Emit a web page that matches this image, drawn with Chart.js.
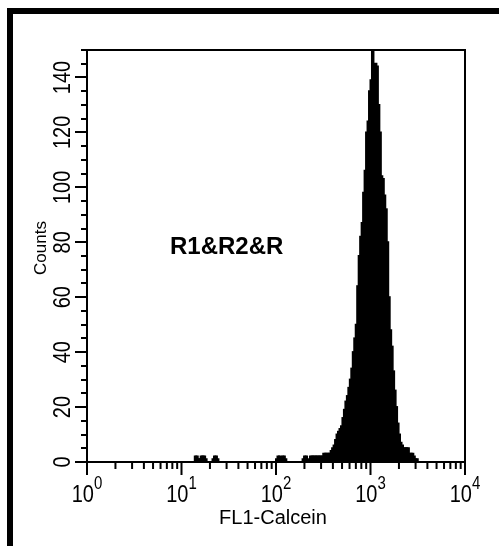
<!DOCTYPE html>
<html>
<head>
<meta charset="utf-8">
<title>FL1-Calcein</title>
<script src="https://cdn.jsdelivr.net/npm/chart.js@4.4.1/dist/chart.umd.min.js"></script>
<style>
  html, body { margin: 0; padding: 0; background: #fff; }
  canvas { display: block; }
</style>
</head>
<body>
<canvas id="histChart" width="499" height="546"></canvas>
<script>
// 256 channels over 4 log decades (64 channels per decade)
const counts = [
  0, 0, 0, 0, 0, 0, 0, 0, 0, 0, 0, 0, 0, 0, 0, 0,
  0, 0, 0, 0, 0, 0, 0, 0, 0, 0, 0, 0, 0, 0, 0, 0,
  0, 0, 0, 0, 0, 0, 0, 0, 0, 0, 0, 0, 0, 0, 0, 0,
  0, 0, 0, 0, 0, 0, 0, 0, 0, 0, 0, 0, 0, 0, 0, 0,
  0, 0, 0, 0, 0, 0, 0, 0, 0, 2, 2, 1, 1, 2, 2, 2,
  1, 0, 0, 0, 0, 1, 2, 2, 1, 0, 0, 0, 0, 0, 0, 0,
  0, 0, 0, 0, 0, 0, 0, 0, 0, 0, 0, 0, 0, 0, 0, 0,
  0, 0, 0, 0, 0, 0, 0, 0, 0, 0, 0, 0, 0, 0, 0, 0,
  1, 2, 2, 1, 2, 2, 1, 0, 0, 0, 0, 0, 0, 0, 0, 0,
  0, 0, 1, 2, 2, 1, 0, 2, 2, 2, 2, 2, 2, 2, 2, 2,
  3, 3, 3, 3, 3, 4, 5, 6, 8, 10, 11, 12, 13, 16, 19, 22,
  24, 27, 30, 34, 40, 45, 50, 64, 75, 82, 87, 98, 106, 120, 124, 135,
  139, 160, 144, 145, 144, 130, 120, 104, 103, 97, 92, 80, 60, 48, 42, 33,
  26, 20, 14, 10, 7, 6, 5, 5, 5, 5, 3, 3, 3, 2, 1, 1,
  0, 0, 0, 0, 0, 0, 0, 0, 0, 0, 0, 0, 0, 0, 0, 0,
  0, 0, 0, 0, 0, 0, 0, 0, 0, 0, 0, 0, 0, 0, 0, 0
];
const channelsPerDecade = 64;
const decadeExponents = ['0', '1', '2', '3', '4'];
const yTickValues = [0, 20, 40, 60, 80, 100, 120, 140];
const yMinorStep = 5;
const yMax = 150;
const xTitle = 'FL1-Calcein';
const yTitle = 'Counts';
const gateLabel = 'R1&R2&R';

const FONT = '"Liberation Sans", Arial, Helvetica, sans-serif';
const TALL = 1.2; // tick numbers are drawn a bit taller than wide

// each bar covers one channel, centred half a channel in
const points = counts.map((c, i) => ({ x: i + 0.5, y: c }));

const axesPlugin = {
  id: 'flowAxes',
  afterDraw(chart) {
    const ctx = chart.ctx;
    const area = chart.chartArea;
    const xs = chart.scales.x;
    const ys = chart.scales.y;

    ctx.save();
    ctx.strokeStyle = '#000';
    ctx.fillStyle = '#000';

    // outer frame
    ctx.lineWidth = 6;
    ctx.strokeRect(10, 11, 520, 600);

    // plot box
    ctx.lineWidth = 2;
    ctx.strokeRect(area.left, area.top, area.right - area.left, area.bottom - area.top);

    // x ticks: decades long, 2..9 short
    ctx.beginPath();
    for (let d = 0; d < decadeExponents.length; d++) {
      for (let k = 1; k <= 9; k++) {
        if (d === decadeExponents.length - 1 && k > 1) break;
        const px = xs.getPixelForValue(channelsPerDecade * (d + Math.log10(k)));
        ctx.moveTo(px, area.bottom);
        ctx.lineTo(px, area.bottom + (k === 1 ? 13 : 7));
      }
    }
    // y ticks: every 5 counts, longer at labelled values
    for (let v = 0; v <= yMax; v += yMinorStep) {
      const py = Math.round(ys.getPixelForValue(v));
      ctx.moveTo(area.left, py);
      ctx.lineTo(area.left - (yTickValues.includes(v) ? 12 : 6), py);
    }
    ctx.stroke();

    // decade labels 10^n
    decadeExponents.forEach((e, d) => {
      const px = xs.getPixelForValue(channelsPerDecade * d);
      ctx.font = '20px ' + FONT;
      const baseW = ctx.measureText('10').width;
      ctx.font = '15px ' + FONT;
      const expW = ctx.measureText(e).width;
      const left = px - (baseW + expW) / 2;
      ctx.save();
      ctx.translate(left, 502);
      ctx.scale(1, TALL);
      ctx.textAlign = 'left';
      ctx.textBaseline = 'alphabetic';
      ctx.font = '20px ' + FONT;
      ctx.fillText('10', 0, 0);
      ctx.font = '15px ' + FONT;
      ctx.fillText(e, baseW, -11);
      ctx.restore();
    });

    ctx.font = '20px ' + FONT;
    ctx.textAlign = 'center';
    ctx.fillText(xTitle, (area.left + area.right) / 2 - 3, 524);

    // rotated y labels
    yTickValues.forEach(v => {
      const py = ys.getPixelForValue(v);
      ctx.save();
      ctx.translate(70, py);
      ctx.rotate(-Math.PI / 2);
      ctx.scale(1, TALL);
      ctx.font = '20px ' + FONT;
      ctx.textAlign = 'center';
      ctx.fillText(String(v), 0, 0);
      ctx.restore();
    });

    ctx.save();
    ctx.translate(46, 248);
    ctx.rotate(-Math.PI / 2);
    ctx.font = '17px ' + FONT;
    ctx.textAlign = 'center';
    ctx.fillText(yTitle, 0, 0);
    ctx.restore();

    ctx.font = 'bold 24px ' + FONT;
    ctx.textAlign = 'left';
    ctx.fillText(gateLabel, 170, 254);

    ctx.restore();
  }
};

new Chart(document.getElementById('histChart'), {
  type: 'bar',
  data: {
    datasets: [{
      label: yTitle,
      data: points,
      backgroundColor: '#000',
      borderWidth: 0,
      barPercentage: 1,
      categoryPercentage: 1,
      // widen each bar a little so neighbouring channels overlap
      inflateAmount: 1
    }]
  },
  options: {
    responsive: false,
    animation: false,
    layout: {
      padding: { left: 87, right: 34, top: 50, bottom: 84 }
    },
    plugins: {
      legend: { display: false },
      tooltip: { enabled: false }
    },
    scales: {
      x: { type: 'linear', min: 0, max: counts.length, offset: false, display: false },
      y: { type: 'linear', min: 0, max: yMax, display: false }
    }
  },
  plugins: [axesPlugin]
});
</script>
</body>
</html>
